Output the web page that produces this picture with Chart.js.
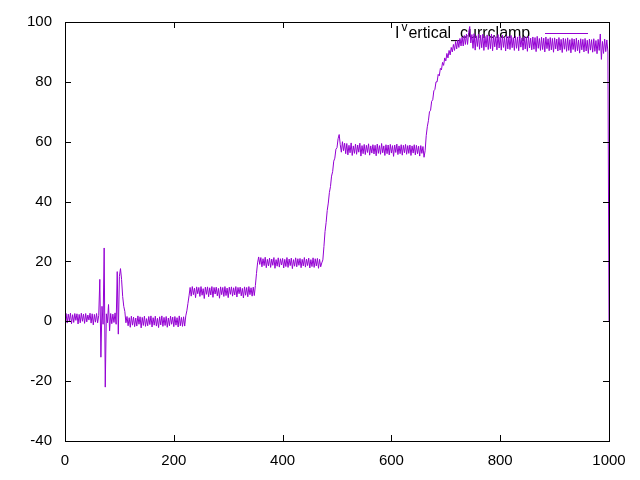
<!DOCTYPE html>
<html>
<head>
<meta charset="utf-8">
<script src="https://cdn.jsdelivr.net/npm/chart.js@4/dist/chart.umd.min.js"></script>
<style>
  html, body { margin: 0; padding: 0; background: #fff; }
  canvas { display: block; }
</style>
</head>
<body>
<canvas id="currChart" width="640" height="480"></canvas>
<script>
// Series: sample positions (every 2 units) and current
const xValues = [];
for (let x = 0; x <= 1000; x += 2) xValues.push(x);

const yValues = [
  // 0 - 60: baseline
  0.5, 2.6, -0.6, 2.4, 0.1, 2.7, -0.8, 2.2, -0.4, 2.6,
  0.3, 2.5, -0.9, 2.3, -0.5, 2.7, 0.0, 2.4, -0.7, 2.6,
  -0.2, 2.1, 0.4, 2.7, -0.6, 2.5, -1.2, 2.3, -0.3, 2.6,
  -0.5,
  // 62 - 112: spikes
  2.0, 14, -12, 5, -1, 24.5, -22, 2.5, -0.5, 5.6,
  -3.2, 2.6, -0.8, 2.4, -0.4, 2.8, -1.0, 16.6, -4.3, 15,
  17.6, 14, 8.3, 5, 3.3, -0.5,
  // 114 - 220: baseline
  1.6, -1.5, 1.2, -2.0, 1.7, -1.3, 1.4, -1.8, 1.1, -1.6,
  1.8, -1.0, 1.5, -2.2, 1.3, -1.4, 1.7, -1.7, 0.9, -1.5,
  1.6, -1.1, 1.8, -1.9, 1.2, -1.3, 1.7, -1.6, 1.0, -2.1,
  1.5, -1.2, 1.8, -1.7, 1.3, -1.4, 1.6, -2.0, 1.1, -1.5,
  1.7, -1.0, 1.4, -1.8, 1.6, -1.3, 1.2, -1.9, 1.8, -1.5,
  1.3, -1.7, 1.5, -1.6,
  // 222 - 228: step up
  1.8, 3.5, 6, 8.5,
  // 230 - 348: level 10
  11.3, 8.4, 11.6, 8.9, 11.1, 7.9, 11.5, 9.2, 11.3, 8.3,
  11.6, 8.7, 10.9, 7.6, 11.4, 9.0, 11.5, 8.2, 11.2, 8.8,
  11.6, 8.0, 11.3, 9.1, 11.4, 8.5, 11.0, 7.7, 11.5, 8.9,
  11.3, 8.3, 11.6, 8.6, 11.1, 7.9, 11.4, 9.0, 11.5, 8.4,
  11.2, 8.8, 11.6, 8.1, 11.3, 9.2, 11.4, 8.5, 11.0, 7.8,
  11.5, 8.7, 11.3, 8.2, 11.6, 8.9, 11.2, 8.4, 11.4, 8.6,
  // 350 - 356: step up
  12, 16, 19.5, 21.5,
  // 358 - 472: level 20
  19.0, 21.3, 18.2, 20.9, 18.6, 21.4, 17.9, 20.7, 18.5, 21.1,
  18.0, 20.8, 18.7, 21.3, 17.7, 20.6, 18.4, 21.2, 18.1, 20.9,
  18.8, 21.0, 17.8, 20.7, 18.3, 21.3, 18.0, 20.8, 18.6, 21.1,
  17.6, 20.6, 18.4, 21.2, 18.2, 20.9, 18.7, 21.0, 17.9, 20.7,
  18.5, 21.3, 18.1, 20.8, 18.6, 21.1, 17.8, 20.6, 18.3, 21.2,
  18.0, 20.9, 18.5, 21.0, 17.7, 20.7, 18.2, 19.5,
  // 474 - 514: ramp to 60
  20.5, 25, 30, 33, 37, 39.5, 43, 45, 48.5, 50,
  53.5, 54.5, 57.5, 58, 61, 62.4, 59, 56.5, 60, 57,
  59.5,
  // 516 - 660: level 57
  56.0, 59.4, 55.6, 58.8, 56.3, 59.6, 55.4, 58.6, 56.1, 59.2,
  55.8, 58.9, 56.5, 59.5, 55.2, 58.7, 56.0, 59.1, 55.7, 58.8,
  56.4, 59.3, 55.5, 58.6, 56.2, 59.0, 55.9, 58.8, 55.3, 59.2,
  56.1, 58.7, 55.8, 59.4, 56.3, 58.6, 55.4, 59.0, 56.0, 58.9,
  55.6, 59.1, 56.2, 58.7, 55.1, 58.9, 56.4, 59.2, 55.7, 58.6,
  56.0, 59.0, 55.5, 58.8, 56.3, 59.1, 55.8, 58.7, 56.1, 58.9,
  55.4, 58.6, 56.2, 59.0, 55.6, 58.8, 56.0, 58.5, 55.2, 58.7,
  56.1, 58.4, 54.8,
  // 662 - 746: ramp to 95
  57, 62, 65, 67, 70, 70.5, 73.5, 74, 77, 77.5,
  80, 80, 82.5, 82, 84.5, 84, 86.5, 85.5, 88, 87,
  89.5, 88, 90.5, 89, 91.5, 90, 92.5, 90.5, 93.5, 91,
  94, 91.5, 94.5, 92, 95, 92, 95.5, 92.5, 96, 92.5,
  96.5, 98.5, 93,
  // 748 - 998: level 93
  95.8, 91.2, 96.1, 90.6, 95.4, 91.8, 96.0, 90.9, 95.6, 91.4,
  95.9, 90.5, 95.2, 91.6, 95.7, 90.8, 95.3, 91.1, 96.0, 90.4,
  95.5, 91.7, 95.1, 90.7, 95.8, 91.3, 95.0, 90.6, 95.6, 91.5,
  94.9, 90.3, 95.4, 91.0, 95.2, 90.8, 95.5, 91.4, 94.8, 90.5,
  95.3, 91.2, 95.0, 90.4, 95.4, 91.6, 94.7, 90.6, 95.1, 91.0,
  94.9, 90.2, 95.3, 91.3, 94.6, 90.7, 95.0, 90.9, 94.8, 90.1,
  95.2, 91.2, 94.5, 90.5, 94.9, 90.8, 94.6, 90.0, 95.0, 91.1,
  94.4, 90.4, 94.8, 90.7, 94.5, 89.9, 94.7, 91.0, 94.3, 90.3,
  94.8, 90.6, 94.2, 89.8, 94.6, 90.9, 94.4, 90.2, 94.7, 90.5,
  94.1, 89.7, 94.5, 90.8, 94.3, 90.1, 94.6, 90.4, 94.0, 89.6,
  94.4, 90.7, 94.2, 90.0, 94.5, 90.3, 93.9, 89.5, 94.3, 90.6,
  94.1, 89.9, 94.4, 90.2, 93.8, 89.4, 94.2, 90.5, 96.0, 87.5,
  93.5, 89.5, 94.3, 90.1, 94.0, 90.0,
  // 1000: drop
  0
];

if (yValues.length !== xValues.length) {
  console.warn('length mismatch', xValues.length, yValues.length);
}

const seriesLabel = 'vertical_currclamp';
const xTicks = [0, 200, 400, 600, 800, 1000];
const yTicks = [-40, -20, 0, 20, 40, 60, 80, 100];

const lineColor = '#9400d3';
const tickFont = '"Liberation Sans Narrow", "Liberation Sans", Arial, sans-serif';

// Box border with inward ticks on all four sides, like gnuplot
const borderPlugin = {
  id: 'borderPlugin',
  afterDatasetsDraw(chart) {
    const { ctx, chartArea: a, scales } = chart;
    const len = 6;
    ctx.save();
    ctx.strokeStyle = '#000';
    ctx.lineWidth = 1;
    ctx.beginPath();
    xTicks.forEach(v => {
      const px = Math.round(scales.x.getPixelForValue(v)) + 0.5;
      ctx.moveTo(px, a.bottom); ctx.lineTo(px, a.bottom - len);
      ctx.moveTo(px, a.top); ctx.lineTo(px, a.top + len);
    });
    yTicks.forEach(v => {
      const py = Math.round(scales.y.getPixelForValue(v)) + 0.5;
      ctx.moveTo(a.left, py); ctx.lineTo(a.left + len, py);
      ctx.moveTo(a.right, py); ctx.lineTo(a.right - len, py);
    });
    ctx.stroke();
    ctx.strokeRect(Math.round(a.left) + 0.5, Math.round(a.top) + 0.5,
      Math.round(a.right - a.left), Math.round(a.bottom - a.top));
    ctx.restore();
  }
};

// Key in the top right corner, drawn under the data
const keyPlugin = {
  id: 'keyPlugin',
  beforeDatasetsDraw(chart) {
    const { ctx } = chart;
    const baseY = 38;
    let x = 395;
    ctx.save();
    ctx.fillStyle = '#000';
    ctx.textBaseline = 'alphabetic';
    ctx.textAlign = 'left';
    ctx.font = '16px ' + tickFont;
    ctx.fillText('I', x, baseY);
    x += ctx.measureText('I').width + 2;
    ctx.font = '12px ' + tickFont;
    ctx.fillText(seriesLabel[0], x, baseY - 7);
    x += ctx.measureText(seriesLabel[0]).width + 1;
    ctx.font = '16px ' + tickFont;
    ctx.fillText(seriesLabel.slice(1), x, baseY);
    ctx.strokeStyle = lineColor;
    ctx.lineWidth = 1;
    ctx.beginPath();
    ctx.moveTo(545, 33.5);
    ctx.lineTo(588, 33.5);
    ctx.stroke();
    ctx.restore();
  }
};

const ctx = document.getElementById('currChart').getContext('2d');
new Chart(ctx, {
  type: 'line',
  data: {
    datasets: [{
      label: seriesLabel,
      data: xValues.map((x, i) => ({ x: x, y: yValues[i] })),
      borderColor: lineColor,
      borderWidth: 1,
      pointRadius: 0,
      tension: 0,
      fill: false
    }]
  },
  options: {
    responsive: false,
    animation: false,
    layout: { padding: { top: 19, right: 31, left: 0, bottom: 0 } },
    plugins: {
      legend: { display: false },
      tooltip: { enabled: false }
    },
    scales: {
      x: {
        type: 'linear',
        min: 0,
        max: 1000,
        afterFit(scale) { scale.height = 39; },
        afterBuildTicks(scale) { scale.ticks = xTicks.map(v => ({ value: v })); },
        grid: { display: false, drawTicks: false },
        border: { display: false },
        ticks: {
          padding: 11,
          color: '#000',
          maxRotation: 0,
          font: { family: tickFont, size: 15 },
          callback: v => String(v)
        }
      },
      y: {
        min: -40,
        max: 100,
        afterFit(scale) { scale.width = 65; },
        afterBuildTicks(scale) { scale.ticks = yTicks.map(v => ({ value: v })); },
        grid: { display: false, drawTicks: false },
        border: { display: false },
        ticks: {
          padding: 13,
          color: '#000',
          font: { family: tickFont, size: 15 },
          callback: v => String(v)
        }
      }
    }
  },
  plugins: [keyPlugin, borderPlugin]
});
</script>
</body>
</html>
